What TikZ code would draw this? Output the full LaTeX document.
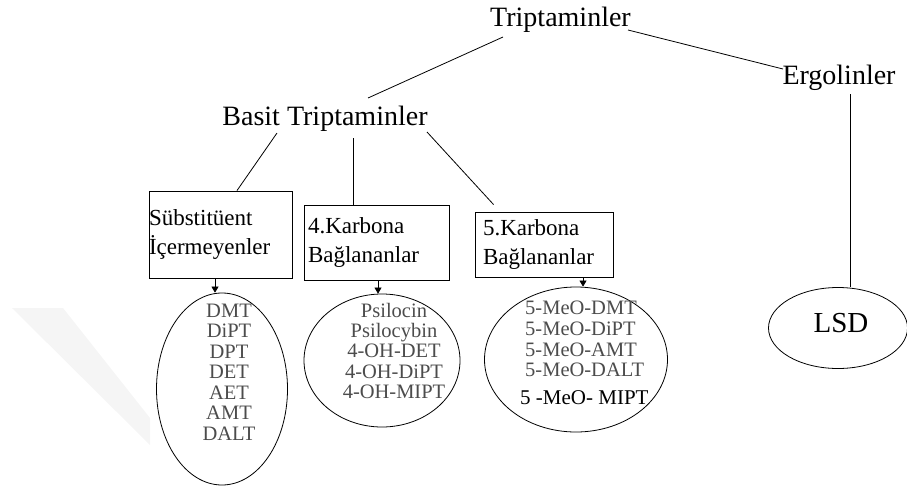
\documentclass[tikz,border=0pt]{standalone}
\usepackage{fontspec}
\setmainfont{Liberation Serif}
\usetikzlibrary{shapes.geometric,arrows.meta,calc}
\begin{document}
\begin{tikzpicture}[x=1pt,y=-1pt,
  title/.style={inner sep=0pt,anchor=base,font=\fontsize{28}{30}\selectfont},
  catbox/.style={draw,line width=0.9pt,inner ysep=0pt,align=left,font=\fontsize{23}{29}\selectfont},
  oval/.style={draw,ellipse,line width=0.8pt,inner sep=0pt},
  listtext/.style={inner sep=0pt,align=center,text=black!70},
  link/.style={line width=0.8pt},
  pointer/.style={line width=0.7pt,-{Triangle[width=7pt,length=6pt]}}
]
\useasboundingbox (0,0) rectangle (907,490);
\fill[black!4] (12,308) -- (63,308) -- (150,418) -- (150,445) -- cycle;

\node[title] (T) at (560.5,26) {Triptaminler};
\node[title] (E) at (839,84) {Ergolinler};
\node[title] (B) at (325,125) {Basit Triptaminler};

\node[catbox,inner xsep=0pt,text width=143pt,minimum height=87pt] (b1) at (220.5,234.5) {Sübstitüent\\İçermeyenler};
\node[catbox,inner xsep=4pt,text width=137pt,minimum height=75pt] (b2) at (376.5,242.5) {4.Karbona\\Bağlananlar};
\node[catbox,inner xsep=8pt,text width=122pt,minimum height=65pt] (b3) at (544,244.5) {5.Karbona\\Bağlananlar};

\node[oval,minimum width=131pt,minimum height=192pt] (e1) at (222,389) {};
\node[oval,minimum width=156pt,minimum height=133pt] (e2) at (382,360.5) {};
\node[oval,minimum width=183pt,minimum height=145pt] (e3) at (576,359.5) {};
\node[oval,minimum width=139pt,minimum height=81pt] (e4) at (838,328) {};

\node[listtext,anchor=north,font=\fontsize{20.5}{20.5}\selectfont] (l1) at (229,303.5) {DMT\\DiPT\\DPT\\DET\\AET\\AMT\\DALT};
\node[listtext,anchor=north,font=\fontsize{20.5}{20.25}\selectfont] (l2) at (394,303) {Psilocin\\Psilocybin\\4-OH-DET\\4-OH-DiPT\\4-OH-MIPT};
\node[listtext,align=left,anchor=north west,font=\fontsize{20.5}{20.7}\selectfont] (l3) at (525,301) {5-MeO-DMT\\5-MeO-DiPT\\5-MeO-AMT\\5-MeO-DALT};
\node[inner sep=0pt,anchor=base west,font=\fontsize{21}{21}\selectfont] (m5) at (520,404) {5 -MeO- MIPT};
\node[inner sep=0pt,anchor=base,font=\fontsize{29}{29}\selectfont] (L) at (841,332) {LSD};

\draw[link] ($(T.base)+(-57.5,11)$) -- ($(B.base)+(43,-27)$);
\draw[link] ($(T.base)+(67.5,4)$) -- ($(E.base)+(-56,-15)$);
\draw[link] ($(B.base)+(-48,8)$) -- ([xshift=16.5pt]b1.north);
\draw[link] ($(B.base)+(28,13)$) -- ([xshift=-23.5pt]b2.north);
\draw[link] ($(B.base)+(102,7)$) -- ($(b3.north west)+(19,-7)$);
\draw[link] ($(E.base)+(11,10)$) -- ([xshift=12pt]e4.north);

\draw[pointer] ([xshift=-5.5pt]b1.south) -- ([xshift=-7pt]e1.north);
\draw[pointer] ([xshift=1.5pt]b2.south) -- ([xshift=-4pt]e2.north);
\draw[pointer] ([xshift=39pt]b3.south) -- ([xshift=7pt]e3.north);
\end{tikzpicture}
\end{document}
